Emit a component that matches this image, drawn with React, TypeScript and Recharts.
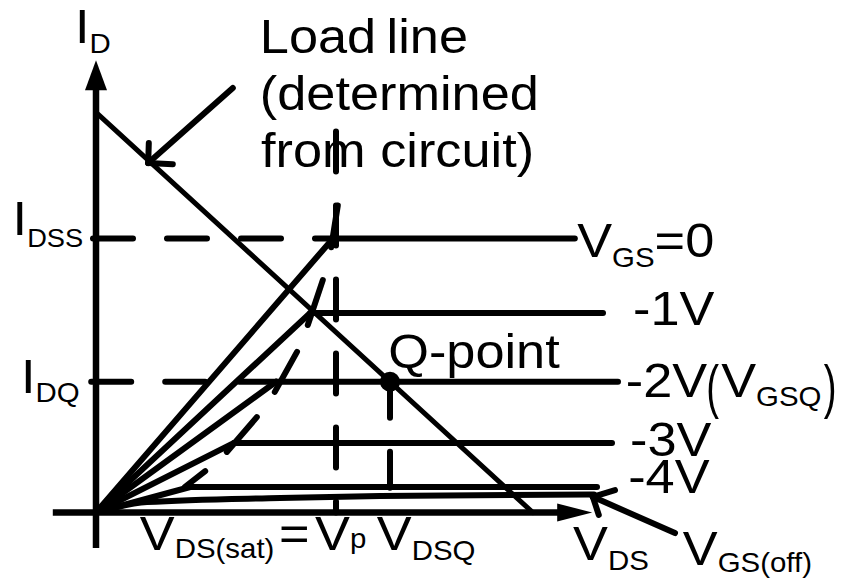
import React from 'react';
import { LineChart, Line, XAxis, YAxis, ReferenceDot } from 'recharts';

// JFET drain characteristics + dc load line
// units: VDS in volts, ID in mA

const vdsDomain: [number, number] = [-1.6, 12.45];
const idDomain: [number, number] = [-2.5, 18.7];

// one entry per gate voltage curve (0, -1, -2, -3, -4 V)
const idSat = [10, 7.28, 4.77, 2.54, 0.93];
const vdsKnee = [3.95, 3.57, 3.0, 2.3, 1.57];
const vdsEnd = [7.98, 8.45, 8.7, 8.6, 8.35];

// short marks at each knee (pinch-off locus)
const tickFrom = [[3.92, 9.68], [3.53, 6.84], [2.98, 4.4], [2.18, 2.21], [1.48, 0.93]];
const tickTo = [[4.03, 11.2], [3.78, 8.48], [3.35, 5.86], [2.68, 3.48], [1.82, 1.51]];

// VGS(off) curve
const offVds = [0, 0.85, 3.07, 4.73, 8.3];
const offId = [0, 0.38, 0.53, 0.6, 0.66];

// load line and operating point
const vdd = 7.28;
const idMax = 14.6;
const vp = 4.0;
const vdsq = 4.9;
const idq = 4.77;

// axes
const xAxisLine = [[-0.72, 0], [7.75, 0]];
const yAxisLine = [[0, -1.3], [0, 15.6]];
const xAxisTip = [8.27, 0];
const yAxisTip = [0, 16.5];

// annotation arrows
const loadArrow = [[[2.28, 15.49], [0.87, 12.75]], [[0.87, 12.75], [1.28, 12.71]], [[0.87, 12.75], [0.88, 13.48]]];
const offArrow = [[[9.65, -0.75], [8.28, 0.57]], [[8.28, 0.57], [8.65, 0.82]], [[8.28, 0.57], [8.38, -0.09]]];

type Part = { t: string; size?: number; dy?: number };
type Lbl = { x: number; y: number; parts: Part[]; sx?: number; sy?: number };

const SUB = 27;
const labels: Lbl[] = [
  { x: -0.35, y: 17.13, parts: [{ t: 'I' }, { t: 'D', size: SUB, dy: 10 }] },
  { x: 2.73, y: 16.76, parts: [{ t: 'Load\u2009line' }] },
  { x: 2.73, y: 14.68, parts: [{ t: '(determined' }] },
  { x: 2.75, y: 12.6, parts: [{ t: 'from circuit)' }] },
  { x: -1.39, y: 10.12, parts: [{ t: 'I' }, { t: 'DSS', size: 25, dy: 12 }] },
  { x: -1.25, y: 4.36, parts: [{ t: 'I' }, { t: 'DQ', size: SUB, dy: 9 }] },
  { x: 8.02, y: 9.32, parts: [{ t: 'V' }, { t: 'GS', size: SUB, dy: 10 }, { t: '=0' }] },
  { x: 8.95, y: 6.84, parts: [{ t: '-1V' }] },
  { x: 8.83, y: 4.21, parts: [{ t: '-2V' }] },
  { x: 10.17, y: 3.85, parts: [{ t: '(' }], sx: 0.8, sy: 1.25 },
  { x: 10.42, y: 4.21, parts: [{ t: 'V' }, { t: 'GSQ', size: SUB, dy: 9 }] },
  { x: 12.13, y: 3.85, parts: [{ t: ')' }], sx: 0.8, sy: 1.25 },
  { x: 8.9, y: 2.05, parts: [{ t: '-3V' }] },
  { x: 8.87, y: 0.7, parts: [{ t: '-4V' }] },
  { x: 4.87, y: 5.27, parts: [{ t: 'Q-point' }] },
  { x: 0.73, y: -1.37, parts: [{ t: 'V' }, { t: 'DS(sat)', size: SUB, dy: 8 }] },
  { x: 3.05, y: -1.37, parts: [{ t: '=' }] },
  { x: 3.65, y: -1.37, parts: [{ t: 'V' }, { t: 'p', size: SUB, dy: -2 }] },
  { x: 4.68, y: -1.37, parts: [{ t: 'V' }, { t: 'DSQ', size: SUB, dy: 10 }] },
  { x: 7.95, y: -1.73, parts: [{ t: 'V' }, { t: 'DS', size: SUB, dy: 10 }] },
  { x: 9.78, y: -1.9, parts: [{ t: 'V' }, { t: 'GS(off)', size: SUB, dy: 7 }] },
];

const pts = (arr: number[][]) => arr.map(([x, y]) => ({ x, y }));

const lineProps = {
  dataKey: 'y',
  stroke: '#000',
  strokeWidth: 6,
  strokeLinecap: 'round' as const,
  type: 'linear' as const,
  dot: false,
  activeDot: false,
  legendType: 'none' as const,
  isAnimationActive: false,
};

const RichText = ({ cx, cy, parts, sx = 1.09, sy = 1 }: { cx: number; cy: number; parts: Part[]; sx?: number; sy?: number }) => {
  let prev = 0;
  return (
    <text
      transform={`translate(${cx},${cy}) scale(${sx},${sy})`}
      fontFamily="'Liberation Sans', Arial, sans-serif"
      fontSize={48}
      fill="#000"
    >
      {parts.map((p, i) => {
        const d = p.dy ?? 0;
        const dy = d - prev;
        prev = d;
        return (
          <tspan key={i} fontSize={p.size ?? 48} dy={dy}>
            {p.t}
          </tspan>
        );
      })}
    </text>
  );
};

export default function App() {
  const dash = '40 34';
  return (
    <div style={{ position: 'absolute', left: 0, top: 0, width: 843, height: 581, background: '#fff' }}>
      <LineChart width={843} height={581} margin={{ top: 0, right: 0, bottom: 0, left: 0 }}>
        <XAxis type="number" dataKey="x" domain={vdsDomain} allowDataOverflow hide />
        <YAxis type="number" domain={idDomain} allowDataOverflow hide />

        {/* axes */}
        <Line {...lineProps} strokeWidth={6.5} data={pts(xAxisLine)} strokeLinecap="butt" />
        <Line {...lineProps} strokeWidth={6.5} data={pts(yAxisLine)} strokeLinecap="butt" />
        <ReferenceDot
          x={xAxisTip[0]} y={xAxisTip[1]} r={0}
          shape={(p: any) => <polygon points={`${p.cx},${p.cy} ${p.cx - 35},${p.cy - 9} ${p.cx - 35},${p.cy + 9}`} fill="#000" />}
        />
        <ReferenceDot
          x={yAxisTip[0]} y={yAxisTip[1]} r={0}
          shape={(p: any) => <polygon points={`${p.cx},${p.cy} ${p.cx - 11},${p.cy + 30} ${p.cx + 11},${p.cy + 30}`} fill="#000" />}
        />

        {/* dashed guides */}
        <Line {...lineProps} data={pts([[-0.05, idSat[0]], [vdsKnee[0], idSat[0]]])} strokeDasharray={dash} />
        <Line {...lineProps} data={pts([[-0.08, idq], [vdsKnee[2], idq]])} strokeDasharray={dash} />
        <Line {...lineProps} data={pts([[vp, 13.9], [vp, 0]])} strokeDasharray={dash} />
        <Line {...lineProps} data={pts([[vdsq, idq], [vdsq, 0.3]])} strokeDasharray="36 34" />

        {/* drain curves */}
        {idSat.map((id, i) => (
          <Line key={`ohm${i}`} {...lineProps} data={pts([[0, 0], [vdsKnee[i], id]])} />
        ))}
        {idSat.map((id, i) => (
          <Line key={`sat${i}`} {...lineProps} data={pts([[vdsKnee[i], id], [vdsEnd[i], id]])} />
        ))}
        {tickFrom.map((f, i) => (
          <Line key={`tick${i}`} {...lineProps} data={pts([f, tickTo[i]])} />
        ))}
        <Line {...lineProps} data={offVds.map((x, i) => ({ x, y: offId[i] }))} type="monotone" />

        {/* load line */}
        <Line {...lineProps} strokeWidth={5} data={pts([[0, idMax], [vdd, 0]])} />
        <ReferenceDot x={vdsq} y={idq} r={10} fill="#000" stroke="none" />

        {/* arrows */}
        {loadArrow.map((s, i) => (
          <Line key={`la${i}`} {...lineProps} data={pts(s)} />
        ))}
        {offArrow.map((s, i) => (
          <Line key={`oa${i}`} {...lineProps} data={pts(s)} />
        ))}

        {/* text */}
        {labels.map((l, i) => (
          <ReferenceDot
            key={`lbl${i}`}
            x={l.x}
            y={l.y}
            r={0}
            shape={(p: any) => <RichText cx={p.cx} cy={p.cy} parts={l.parts} sx={l.sx} sy={l.sy} />}
          />
        ))}
      </LineChart>
    </div>
  );
}
